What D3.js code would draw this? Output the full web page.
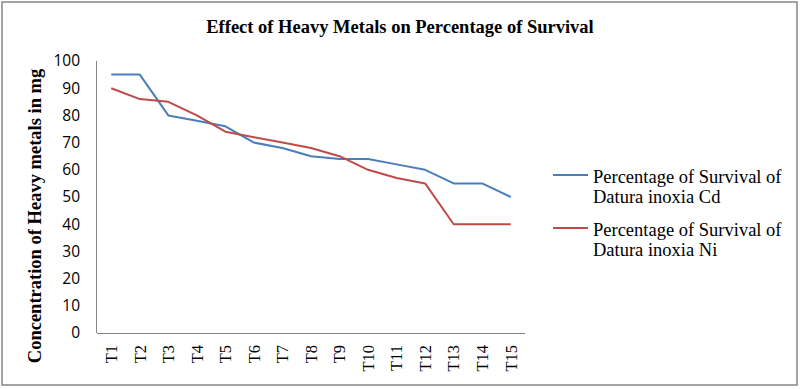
<!DOCTYPE html>
<html>
<head>
<meta charset="utf-8">
<script src="https://cdn.jsdelivr.net/npm/d3@7"></script>
<style>
  body { margin: 0; background: #fff; }
  .axis path { stroke: #868686; }
  .ytick text { font-family: "Open Sans", sans-serif; font-size: 15.5px; fill: #000; }
  .xtick text { font-family: "Liberation Serif", serif; font-size: 16.5px; fill: #000; }
  .legend text { font-family: "Liberation Serif", serif; font-size: 18.5px; fill: #000; }
</style>
</head>
<body>
<svg id="chart" width="802" height="389"></svg>
<script>
// categories and series
var treatments = ["T1","T2","T3","T4","T5","T6","T7","T8","T9","T10","T11","T12","T13","T14","T15"];
var cdValues = [95, 95, 80, 78, 76, 70, 68, 65, 64, 64, 62, 60, 55, 55, 50];
var niValues = [90, 86, 85, 80, 74, 72, 70, 68, 65, 60, 57, 55, 40, 40, 40];
var yTicks = [0, 10, 20, 30, 40, 50, 60, 70, 80, 90, 100];
var seriesNames = ["Percentage of Survival of|Datura inoxia Cd", "Percentage of Survival of|Datura inoxia Ni"];
var seriesColors = ["#4a7ebb", "#be4b48"];

var svg = d3.select("#chart");

// outer frame
svg.append("rect")
   .attr("x", 2).attr("y", 2)
   .attr("width", 795).attr("height", 383)
   .attr("fill", "none")
   .attr("stroke", "#8e8e8e")
   .attr("stroke-width", 1.6);

// plot area
var plotLeft = 97, plotRight = 525, plotTop = 61, plotBottom = 333;

var x = d3.scalePoint().domain(treatments).range([plotLeft, plotRight]).padding(0.5);
var y = d3.scaleLinear().domain([0, 100]).range([plotBottom, plotTop]);

// title
svg.append("text")
   .attr("x", 400)
   .attr("y", 33)
   .attr("text-anchor", "middle")
   .style("font-family", "'Liberation Serif', serif")
   .style("font-weight", "bold")
   .style("font-size", "18.5px")
   .text("Effect of Heavy Metals on Percentage of Survival");

// y axis
var yAxis = svg.append("g")
   .attr("class", "axis ytick")
   .attr("transform", "translate(" + plotLeft + ",0)")
   .call(d3.axisLeft(y).tickValues(yTicks).tickSize(0).tickPadding(17));

// x axis
var xAxis = svg.append("g")
   .attr("class", "axis xtick")
   .attr("transform", "translate(0," + plotBottom + ")")
   .call(d3.axisBottom(x).tickSize(0));

xAxis.selectAll(".domain").attr("d", "M" + plotLeft + ",0.5H" + plotRight);
yAxis.selectAll(".domain").attr("d", "M-0.5," + plotTop + "V" + plotBottom);

xAxis.selectAll(".tick text")
   .attr("y", 0)
   .attr("dy", "0.32em")
   .attr("text-anchor", "end")
   .attr("transform", "translate(0,12) rotate(-90)");

// y axis title
svg.append("text")
   .attr("transform", "translate(41,216) rotate(-90)")
   .attr("text-anchor", "middle")
   .style("font-family", "'Liberation Serif', serif")
   .style("font-weight", "bold")
   .style("font-size", "18.5px")
   .text("Concentration of Heavy metals in mg");

// lines
var line = d3.line()
    .x(function(d, i) { return x(treatments[i]); })
    .y(function(d) { return y(d); });

[cdValues, niValues].forEach(function(vals, i) {
  svg.append("path")
     .attr("d", line(vals))
     .attr("fill", "none")
     .attr("stroke", seriesColors[i])
     .attr("stroke-width", 2)
     .attr("stroke-linejoin", "round");
});

// legend
var legend = svg.append("g").attr("class", "legend");
seriesNames.forEach(function(name, i) {
  var g = legend.append("g").attr("transform", "translate(553," + (175 + i * 53) + ")");
  g.append("line")
   .attr("x1", 0).attr("x2", 35)
   .attr("stroke", seriesColors[i])
   .attr("stroke-width", 2);
  var t = g.append("text").attr("x", 40).attr("y", 8);
  name.split("|").forEach(function(part, j) {
    t.append("tspan").attr("x", 40).attr("dy", j ? 20 : 0).text(part);
  });
});
</script>
</body>
</html>
